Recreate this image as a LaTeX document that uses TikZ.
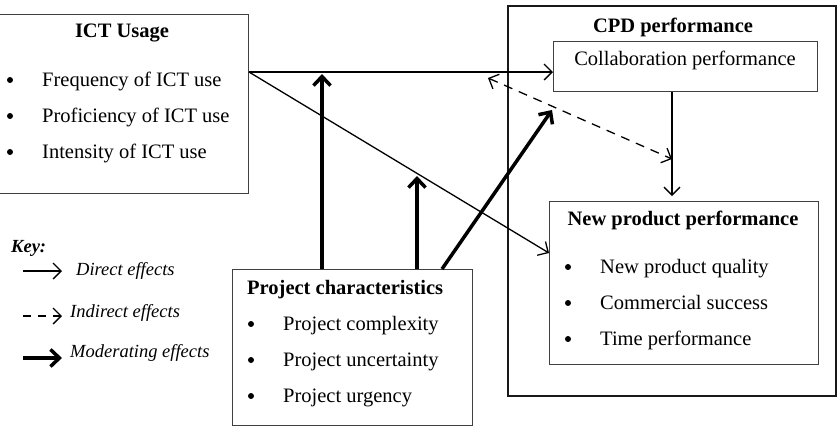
\documentclass[tikz,border=0pt]{standalone}
\usepackage{fontspec}
\setmainfont{Liberation Serif}
\usetikzlibrary{arrows.meta, positioning, calc}

\begin{document}
\begin{tikzpicture}[x=1pt, y=-1pt,
  box/.style={rectangle, draw=black!75, line width=1pt, anchor=north west, inner sep=0pt},
  txt/.style={anchor=base west, inner sep=0pt, font=\fontsize{20.5}{24}\selectfont},
  ttl/.style={anchor=base, inner sep=0pt, font=\fontsize{20.5}{24}\selectfont\bfseries},
  keytxt/.style={anchor=base west, inner sep=0pt, font=\fontsize{18.5}{21}\selectfont\itshape},
  dot/.style={circle, fill=black, inner sep=0pt, minimum size=6pt},
  direct/.style={-{Straight Barb[length=8pt,width=16pt]}, line width=1.3pt},
  indirect/.style={{Straight Barb[length=8pt,width=16pt]}-{Straight Barb[length=8pt,width=16pt]}, line width=1.3pt, dash pattern=on 9pt off 7pt},
  moder/.style={-{Straight Barb[length=9pt,width=17pt]}, line width=3.5pt}]

\useasboundingbox (0,0) rectangle (839,432);

% boxes
\node[box, minimum width=250, minimum height=179] (ict) at (-2,14) {};
\node[box, draw=black!90, line width=1.6pt, minimum width=328, minimum height=390] (cpd) at (507,5) {};
\node[box, minimum width=264, minimum height=50] (colab) at (553,41) {};
\node[box, minimum width=269, minimum height=163] (npp) at (549,201) {};
\node[box, minimum width=240, minimum height=156] (proj) at (232,269) {};

% ICT usage
\node[ttl] (ictt) at (122,37) {ICT Usage};
\foreach \t [count=\i] in {Frequency of ICT use, Proficiency of ICT use, Intensity of ICT use} {
  \node[dot] (ictb\i) at (10,44+36*\i) {};
  \node[txt] (icti\i) at (42,50+36*\i) {\t};
}

% CPD performance
\node[ttl] (cpdt) at (673,32) {CPD performance};
\node[txt, anchor=base] (colabt) at (685,65) {Collaboration performance};
\node[ttl] (nppt) at (683,225) {New product performance};
\foreach \t [count=\i] in {New product quality, Commercial success, Time performance} {
  \node[dot] (nppb\i) at (568,231+36*\i) {};
  \node[txt] (nppi\i) at (600,237+36*\i) {\t};
}

% project characteristics
\node[ttl, anchor=base west] (projt) at (247,294) {Project characteristics};
\foreach \t [count=\i] in {Project complexity, Project uncertainty, Project urgency} {
  \node[dot] (projb\i) at (251,288+36*\i) {};
  \node[txt] (proji\i) at (283,294+36*\i) {\t};
}

% key
\node[keytxt, font=\fontsize{18.5}{21}\selectfont\bfseries\itshape] (key) at (11,252) {Key:};
\coordinate (k1a) at (23,271); \coordinate (k1b) at (62,271);
\coordinate (k2a) at (23,316); \coordinate (k2b) at (62,316);
\coordinate (k3a) at (23,358); \coordinate (k3b) at (62,358);
\draw[direct] (k1a) -- (k1b);
\draw[direct, dash pattern=on 8pt off 7pt] (k2a) -- (k2b);
\draw[moder] (k3a) -- (k3b);
\node[keytxt] (k1t) at (76,275) {Direct effects};
\node[keytxt] (k2t) at (70,317) {Indirect effects};
\node[keytxt] (k3t) at (70,357) {Moderating effects};

% effects
\coordinate (ictout) at (ict.east |- 0,72);
\coordinate (d1) at (488,78);
\coordinate (d2) at (672,159);
\coordinate (m1) at (322,74);
\coordinate (m2) at (417,176);
\coordinate (m3) at (552,110);

\draw[direct] (ictout) -- (colab.west |- ictout);
\draw[direct] (ictout) -- (npp.west |- 0,253);
\draw[direct, shorten >=5pt] (colab.south -| 672,0) -- (npp.north -| 672,0);
\draw[indirect] (d1) -- (d2);

\draw[moder] (proj.north -| 322,0) -- (m1);
\draw[moder] (proj.north -| 417,0) -- (m2);
\draw[moder] (proj.north -| 442,0) -- (m3);

\end{tikzpicture}
\end{document}
